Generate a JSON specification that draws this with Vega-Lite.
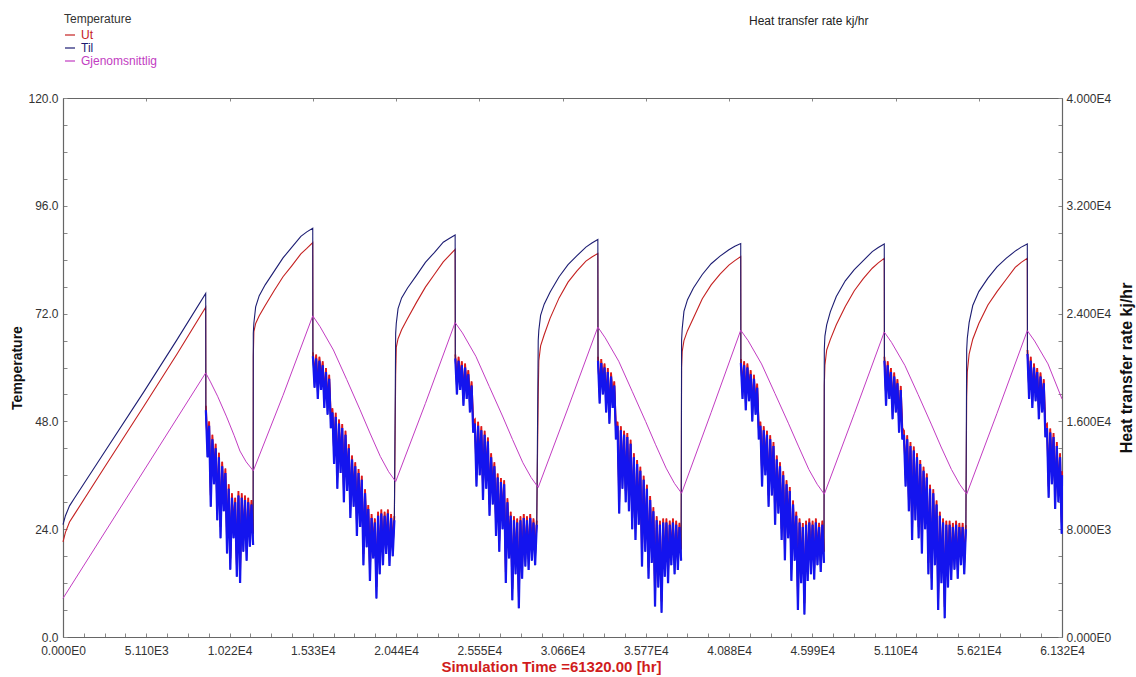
{
"$schema":"https://vega.github.io/schema/vega-lite/v6.json",
"width":999,"height":539,
"autosize":{"type":"none"},
"padding":{"left":63,"top":98,"right":74,"bottom":40},
"background":"white",
"config":{"view":{"stroke":null},"font":"Liberation Sans"},
"title":{"text":"Heat transfer rate kj/hr","anchor":"start","frame":"group","dx":686,"dy":14,"offset":0,"fontSize":12,"fontWeight":"normal","color":"#222","font":"Liberation Sans"},
"datasets":{
"main":[
{"t":0,"Ut":21.2,"Til":25.0,"p":"c"},
{"t":150,"Ut":23.3,"Til":27.0,"p":"c"},
{"t":400,"Ut":25.6,"Til":29.2,"p":"c"},
{"t":700,"Ut":27.3,"Til":30.9,"p":"c"},
{"t":2500,"Ut":37.5,"Til":40.9,"p":"c"},
{"t":5000,"Ut":51.6,"Til":54.8,"p":"c"},
{"t":7000,"Ut":63.0,"Til":66.2,"p":"c"},
{"t":8760,"Ut":73.4,"Til":76.5,"p":"c"},
{"t":8770,"Ut":51.5,"Til":50.5,"p":"d1"},
{"t":8870,"Ut":42.5,"Til":40.0,"p":"d1"},
{"t":8970,"Ut":48.0,"Til":47.0,"p":"d1"},
{"t":9070,"Ut":31.5,"Til":29.0,"p":"d1"},
{"t":9170,"Ut":45.0,"Til":44.0,"p":"d1"},
{"t":9270,"Ut":36.5,"Til":34.0,"p":"d1"},
{"t":9370,"Ut":43.0,"Til":42.0,"p":"d1"},
{"t":9470,"Ut":28.5,"Til":26.0,"p":"d1"},
{"t":9570,"Ut":41.0,"Til":40.0,"p":"d1"},
{"t":9670,"Ut":24.5,"Til":22.0,"p":"d1"},
{"t":9770,"Ut":39.0,"Til":38.0,"p":"d1"},
{"t":9870,"Ut":30.5,"Til":28.0,"p":"d1"},
{"t":9970,"Ut":37.5,"Til":36.5,"p":"d1"},
{"t":10070,"Ut":21.0,"Til":18.6,"p":"d1"},
{"t":10170,"Ut":34.0,"Til":33.0,"p":"d1"},
{"t":10270,"Ut":17.5,"Til":15.0,"p":"d1"},
{"t":10370,"Ut":32.0,"Til":31.0,"p":"d1"},
{"t":10470,"Ut":24.5,"Til":22.0,"p":"d1"},
{"t":10570,"Ut":31.0,"Til":30.0,"p":"d1"},
{"t":10670,"Ut":16.0,"Til":13.4,"p":"d1"},
{"t":10770,"Ut":32.5,"Til":31.5,"p":"d1"},
{"t":10870,"Ut":14.5,"Til":12.0,"p":"d1"},
{"t":10970,"Ut":32.0,"Til":31.0,"p":"d1"},
{"t":11070,"Ut":21.5,"Til":19.0,"p":"d1"},
{"t":11170,"Ut":31.5,"Til":30.5,"p":"d1"},
{"t":11270,"Ut":19.5,"Til":17.0,"p":"d1"},
{"t":11370,"Ut":31.0,"Til":30.0,"p":"d1"},
{"t":11470,"Ut":22.5,"Til":20.1,"p":"d1"},
{"t":11570,"Ut":30.5,"Til":29.5,"p":"d1"},
{"t":11670,"Ut":23.0,"Til":20.5,"p":"d1"},
{"t":11680,"Ut":62.4,"Til":67.6,"p":"c"},
{"t":11717,"Ut":68.0,"Til":69.9,"p":"c"},
{"t":11826,"Ut":69.8,"Til":73.5,"p":"c"},
{"t":12045,"Ut":71.5,"Til":76.0,"p":"c"},
{"t":12410,"Ut":73.8,"Til":78.4,"p":"c"},
{"t":12958,"Ut":77.1,"Til":81.4,"p":"c"},
{"t":13505,"Ut":80.2,"Til":84.4,"p":"c"},
{"t":14053,"Ut":82.7,"Til":86.8,"p":"c"},
{"t":14600,"Ut":85.3,"Til":89.2,"p":"c"},
{"t":14965,"Ut":86.5,"Til":90.2,"p":"c"},
{"t":15330,"Ut":87.8,"Til":91.0,"p":"c"},
{"t":15340,"Ut":63.4,"Til":62.5,"p":"d2"},
{"t":15440,"Ut":58.0,"Til":55.5,"p":"d2"},
{"t":15540,"Ut":62.9,"Til":62.0,"p":"d2"},
{"t":15640,"Ut":55.5,"Til":53.0,"p":"d2"},
{"t":15740,"Ut":62.4,"Til":61.5,"p":"d2"},
{"t":15840,"Ut":57.5,"Til":55.0,"p":"d2"},
{"t":15940,"Ut":61.4,"Til":60.5,"p":"d2"},
{"t":16040,"Ut":53.5,"Til":51.0,"p":"d2"},
{"t":16140,"Ut":59.9,"Til":59.0,"p":"d2"},
{"t":16240,"Ut":52.0,"Til":49.5,"p":"d2"},
{"t":16340,"Ut":58.4,"Til":57.5,"p":"d2"},
{"t":16440,"Ut":49.0,"Til":46.5,"p":"d2"},
{"t":16540,"Ut":50.9,"Til":50.0,"p":"d2"},
{"t":16640,"Ut":41.0,"Til":38.5,"p":"d2"},
{"t":16740,"Ut":49.9,"Til":49.0,"p":"d2"},
{"t":16840,"Ut":35.5,"Til":33.0,"p":"d2"},
{"t":16940,"Ut":48.4,"Til":47.5,"p":"d2"},
{"t":17040,"Ut":39.0,"Til":36.5,"p":"d2"},
{"t":17140,"Ut":47.4,"Til":46.5,"p":"d2"},
{"t":17240,"Ut":32.5,"Til":30.0,"p":"d2"},
{"t":17340,"Ut":45.9,"Til":45.0,"p":"d2"},
{"t":17440,"Ut":35.0,"Til":32.5,"p":"d2"},
{"t":17540,"Ut":42.9,"Til":42.0,"p":"d2"},
{"t":17640,"Ut":29.0,"Til":26.5,"p":"d2"},
{"t":17740,"Ut":40.4,"Til":39.5,"p":"d2"},
{"t":17840,"Ut":31.5,"Til":29.0,"p":"d2"},
{"t":17940,"Ut":38.9,"Til":38.0,"p":"d2"},
{"t":18040,"Ut":25.0,"Til":22.5,"p":"d2"},
{"t":18140,"Ut":37.4,"Til":36.5,"p":"d2"},
{"t":18240,"Ut":27.0,"Til":24.5,"p":"d2"},
{"t":18340,"Ut":35.9,"Til":35.0,"p":"d2"},
{"t":18440,"Ut":18.5,"Til":16.0,"p":"d2"},
{"t":18540,"Ut":32.9,"Til":32.0,"p":"d2"},
{"t":18640,"Ut":22.5,"Til":20.0,"p":"d2"},
{"t":18740,"Ut":29.4,"Til":28.5,"p":"d2"},
{"t":18840,"Ut":15.0,"Til":12.5,"p":"d2"},
{"t":18940,"Ut":27.4,"Til":26.5,"p":"d2"},
{"t":19040,"Ut":20.0,"Til":17.5,"p":"d2"},
{"t":19140,"Ut":26.4,"Til":25.5,"p":"d2"},
{"t":19240,"Ut":11.1,"Til":8.6,"p":"d2"},
{"t":19340,"Ut":27.9,"Til":27.0,"p":"d2"},
{"t":19440,"Ut":16.5,"Til":14.0,"p":"d2"},
{"t":19540,"Ut":28.4,"Til":27.5,"p":"d2"},
{"t":19640,"Ut":18.5,"Til":16.0,"p":"d2"},
{"t":19740,"Ut":27.9,"Til":27.0,"p":"d2"},
{"t":19840,"Ut":21.0,"Til":18.5,"p":"d2"},
{"t":19940,"Ut":28.4,"Til":27.5,"p":"d2"},
{"t":20040,"Ut":18.3,"Til":15.8,"p":"d2"},
{"t":20140,"Ut":27.4,"Til":26.5,"p":"d2"},
{"t":20240,"Ut":20.5,"Til":18.0,"p":"d2"},
{"t":20340,"Ut":26.9,"Til":26.0,"p":"d2"},
{"t":20420,"Ut":58.3,"Til":67.6,"p":"c"},
{"t":20457,"Ut":64.5,"Til":69.8,"p":"c"},
{"t":20566,"Ut":66.4,"Til":73.1,"p":"c"},
{"t":20785,"Ut":68.4,"Til":75.5,"p":"c"},
{"t":21150,"Ut":70.9,"Til":77.7,"p":"c"},
{"t":21698,"Ut":74.5,"Til":80.5,"p":"c"},
{"t":22245,"Ut":77.9,"Til":83.4,"p":"c"},
{"t":22793,"Ut":80.7,"Til":85.6,"p":"c"},
{"t":23340,"Ut":83.5,"Til":87.9,"p":"c"},
{"t":23705,"Ut":84.9,"Til":88.7,"p":"c"},
{"t":24070,"Ut":86.3,"Til":89.5,"p":"c"},
{"t":24080,"Ut":62.9,"Til":62.0,"p":"d3"},
{"t":24180,"Ut":56.5,"Til":54.0,"p":"d3"},
{"t":24280,"Ut":62.4,"Til":61.5,"p":"d3"},
{"t":24380,"Ut":57.5,"Til":55.0,"p":"d3"},
{"t":24480,"Ut":61.4,"Til":60.5,"p":"d3"},
{"t":24580,"Ut":54.0,"Til":51.5,"p":"d3"},
{"t":24680,"Ut":60.9,"Til":60.0,"p":"d3"},
{"t":24780,"Ut":55.5,"Til":53.0,"p":"d3"},
{"t":24880,"Ut":59.4,"Til":58.5,"p":"d3"},
{"t":24980,"Ut":52.5,"Til":50.0,"p":"d3"},
{"t":25080,"Ut":56.9,"Til":56.0,"p":"d3"},
{"t":25180,"Ut":48.0,"Til":45.5,"p":"d3"},
{"t":25280,"Ut":48.4,"Til":47.5,"p":"d3"},
{"t":25380,"Ut":36.0,"Til":33.5,"p":"d3"},
{"t":25480,"Ut":47.9,"Til":47.0,"p":"d3"},
{"t":25580,"Ut":38.5,"Til":36.0,"p":"d3"},
{"t":25680,"Ut":46.9,"Til":46.0,"p":"d3"},
{"t":25780,"Ut":33.0,"Til":30.5,"p":"d3"},
{"t":25880,"Ut":45.9,"Til":45.0,"p":"d3"},
{"t":25980,"Ut":35.5,"Til":33.0,"p":"d3"},
{"t":26080,"Ut":44.4,"Til":43.5,"p":"d3"},
{"t":26180,"Ut":29.5,"Til":27.0,"p":"d3"},
{"t":26280,"Ut":40.9,"Til":40.0,"p":"d3"},
{"t":26380,"Ut":32.0,"Til":29.5,"p":"d3"},
{"t":26480,"Ut":38.9,"Til":38.0,"p":"d3"},
{"t":26580,"Ut":25.0,"Til":22.5,"p":"d3"},
{"t":26680,"Ut":36.4,"Til":35.5,"p":"d3"},
{"t":26780,"Ut":21.5,"Til":19.0,"p":"d3"},
{"t":26880,"Ut":35.4,"Til":34.5,"p":"d3"},
{"t":26980,"Ut":26.5,"Til":24.0,"p":"d3"},
{"t":27080,"Ut":34.9,"Til":34.0,"p":"d3"},
{"t":27180,"Ut":14.5,"Til":12.0,"p":"d3"},
{"t":27280,"Ut":30.9,"Til":30.0,"p":"d3"},
{"t":27380,"Ut":20.0,"Til":17.5,"p":"d3"},
{"t":27480,"Ut":27.9,"Til":27.0,"p":"d3"},
{"t":27580,"Ut":10.7,"Til":8.2,"p":"d3"},
{"t":27680,"Ut":26.9,"Til":26.0,"p":"d3"},
{"t":27780,"Ut":16.5,"Til":14.0,"p":"d3"},
{"t":27880,"Ut":26.4,"Til":25.5,"p":"d3"},
{"t":27980,"Ut":8.9,"Til":6.4,"p":"d3"},
{"t":28080,"Ut":26.9,"Til":26.0,"p":"d3"},
{"t":28180,"Ut":15.5,"Til":13.0,"p":"d3"},
{"t":28280,"Ut":27.4,"Til":26.5,"p":"d3"},
{"t":28380,"Ut":18.2,"Til":15.7,"p":"d3"},
{"t":28480,"Ut":26.9,"Til":26.0,"p":"d3"},
{"t":28580,"Ut":17.4,"Til":14.9,"p":"d3"},
{"t":28680,"Ut":27.4,"Til":26.5,"p":"d3"},
{"t":28780,"Ut":19.5,"Til":17.0,"p":"d3"},
{"t":28880,"Ut":26.4,"Til":25.5,"p":"d3"},
{"t":28980,"Ut":18.5,"Til":16.0,"p":"d3"},
{"t":29080,"Ut":25.9,"Til":25.0,"p":"d3"},
{"t":29170,"Ut":54.0,"Til":66.0,"p":"c"},
{"t":29207,"Ut":61.5,"Til":68.3,"p":"c"},
{"t":29316,"Ut":64.8,"Til":71.6,"p":"c"},
{"t":29536,"Ut":67.3,"Til":74.1,"p":"c"},
{"t":29902,"Ut":71.0,"Til":76.8,"p":"c"},
{"t":30451,"Ut":75.5,"Til":80.2,"p":"c"},
{"t":31000,"Ut":79.0,"Til":82.9,"p":"c"},
{"t":31549,"Ut":81.5,"Til":84.9,"p":"c"},
{"t":32098,"Ut":83.7,"Til":86.8,"p":"c"},
{"t":32464,"Ut":84.6,"Til":87.7,"p":"c"},
{"t":32830,"Ut":85.4,"Til":88.5,"p":"c"},
{"t":32840,"Ut":62.4,"Til":61.5,"p":"d4"},
{"t":32940,"Ut":54.5,"Til":52.0,"p":"d4"},
{"t":33040,"Ut":61.9,"Til":61.0,"p":"d4"},
{"t":33140,"Ut":56.5,"Til":54.0,"p":"d4"},
{"t":33240,"Ut":60.9,"Til":60.0,"p":"d4"},
{"t":33340,"Ut":52.5,"Til":50.0,"p":"d4"},
{"t":33440,"Ut":59.9,"Til":59.0,"p":"d4"},
{"t":33540,"Ut":50.0,"Til":47.5,"p":"d4"},
{"t":33640,"Ut":58.9,"Til":58.0,"p":"d4"},
{"t":33740,"Ut":53.5,"Til":51.0,"p":"d4"},
{"t":33840,"Ut":56.9,"Til":56.0,"p":"d4"},
{"t":33940,"Ut":46.5,"Til":44.0,"p":"d4"},
{"t":34040,"Ut":47.9,"Til":47.0,"p":"d4"},
{"t":34140,"Ut":30.0,"Til":27.5,"p":"d4"},
{"t":34240,"Ut":46.9,"Til":46.0,"p":"d4"},
{"t":34340,"Ut":35.5,"Til":33.0,"p":"d4"},
{"t":34440,"Ut":45.9,"Til":45.0,"p":"d4"},
{"t":34540,"Ut":32.5,"Til":30.0,"p":"d4"},
{"t":34640,"Ut":45.4,"Til":44.5,"p":"d4"},
{"t":34740,"Ut":30.5,"Til":28.0,"p":"d4"},
{"t":34840,"Ut":43.9,"Til":43.0,"p":"d4"},
{"t":34940,"Ut":26.5,"Til":24.0,"p":"d4"},
{"t":35040,"Ut":40.9,"Til":40.0,"p":"d4"},
{"t":35140,"Ut":24.1,"Til":21.6,"p":"d4"},
{"t":35240,"Ut":39.4,"Til":38.5,"p":"d4"},
{"t":35340,"Ut":27.5,"Til":25.0,"p":"d4"},
{"t":35440,"Ut":37.9,"Til":37.0,"p":"d4"},
{"t":35540,"Ut":18.2,"Til":15.7,"p":"d4"},
{"t":35640,"Ut":35.9,"Til":35.0,"p":"d4"},
{"t":35740,"Ut":21.5,"Til":19.0,"p":"d4"},
{"t":35840,"Ut":33.9,"Til":33.0,"p":"d4"},
{"t":35940,"Ut":15.5,"Til":13.0,"p":"d4"},
{"t":36040,"Ut":31.4,"Til":30.5,"p":"d4"},
{"t":36140,"Ut":19.0,"Til":16.5,"p":"d4"},
{"t":36240,"Ut":28.9,"Til":28.0,"p":"d4"},
{"t":36340,"Ut":9.3,"Til":6.8,"p":"d4"},
{"t":36440,"Ut":26.9,"Til":26.0,"p":"d4"},
{"t":36540,"Ut":13.5,"Til":11.0,"p":"d4"},
{"t":36640,"Ut":25.9,"Til":25.0,"p":"d4"},
{"t":36740,"Ut":7.9,"Til":5.4,"p":"d4"},
{"t":36840,"Ut":26.4,"Til":25.5,"p":"d4"},
{"t":36940,"Ut":15.9,"Til":13.4,"p":"d4"},
{"t":37040,"Ut":26.4,"Til":25.5,"p":"d4"},
{"t":37140,"Ut":14.5,"Til":12.0,"p":"d4"},
{"t":37240,"Ut":25.9,"Til":25.0,"p":"d4"},
{"t":37340,"Ut":18.5,"Til":16.0,"p":"d4"},
{"t":37440,"Ut":26.4,"Til":25.5,"p":"d4"},
{"t":37540,"Ut":16.5,"Til":14.0,"p":"d4"},
{"t":37640,"Ut":25.9,"Til":25.0,"p":"d4"},
{"t":37740,"Ut":17.4,"Til":14.9,"p":"d4"},
{"t":37840,"Ut":25.4,"Til":24.5,"p":"d4"},
{"t":37940,"Ut":19.5,"Til":17.0,"p":"d4"},
{"t":37970,"Ut":60.0,"Til":66.0,"p":"c"},
{"t":38006,"Ut":63.5,"Til":68.6,"p":"c"},
{"t":38115,"Ut":66.0,"Til":72.5,"p":"c"},
{"t":38333,"Ut":68.2,"Til":75.1,"p":"c"},
{"t":38696,"Ut":71.0,"Til":77.7,"p":"c"},
{"t":39241,"Ut":75.3,"Til":80.7,"p":"c"},
{"t":39785,"Ut":78.4,"Til":83.1,"p":"c"},
{"t":40330,"Ut":80.8,"Til":84.8,"p":"c"},
{"t":40874,"Ut":82.8,"Til":86.2,"p":"c"},
{"t":41237,"Ut":83.8,"Til":87.0,"p":"c"},
{"t":41600,"Ut":84.7,"Til":87.6,"p":"c"},
{"t":41610,"Ut":61.9,"Til":61.0,"p":"d5"},
{"t":41710,"Ut":55.5,"Til":53.0,"p":"d5"},
{"t":41810,"Ut":61.4,"Til":60.5,"p":"d5"},
{"t":41910,"Ut":53.0,"Til":50.5,"p":"d5"},
{"t":42010,"Ut":60.9,"Til":60.0,"p":"d5"},
{"t":42110,"Ut":55.0,"Til":52.5,"p":"d5"},
{"t":42210,"Ut":59.4,"Til":58.5,"p":"d5"},
{"t":42310,"Ut":50.5,"Til":48.0,"p":"d5"},
{"t":42410,"Ut":58.4,"Til":57.5,"p":"d5"},
{"t":42510,"Ut":52.0,"Til":49.5,"p":"d5"},
{"t":42610,"Ut":56.4,"Til":55.5,"p":"d5"},
{"t":42710,"Ut":46.5,"Til":44.0,"p":"d5"},
{"t":42810,"Ut":47.9,"Til":47.0,"p":"d5"},
{"t":42910,"Ut":36.0,"Til":33.5,"p":"d5"},
{"t":43010,"Ut":46.9,"Til":46.0,"p":"d5"},
{"t":43110,"Ut":38.5,"Til":36.0,"p":"d5"},
{"t":43210,"Ut":45.9,"Til":45.0,"p":"d5"},
{"t":43310,"Ut":31.5,"Til":29.0,"p":"d5"},
{"t":43410,"Ut":44.9,"Til":44.0,"p":"d5"},
{"t":43510,"Ut":34.0,"Til":31.5,"p":"d5"},
{"t":43610,"Ut":43.4,"Til":42.5,"p":"d5"},
{"t":43710,"Ut":27.5,"Til":25.0,"p":"d5"},
{"t":43810,"Ut":40.4,"Til":39.5,"p":"d5"},
{"t":43910,"Ut":30.0,"Til":27.5,"p":"d5"},
{"t":44010,"Ut":38.9,"Til":38.0,"p":"d5"},
{"t":44110,"Ut":24.1,"Til":21.6,"p":"d5"},
{"t":44210,"Ut":36.9,"Til":36.0,"p":"d5"},
{"t":44310,"Ut":19.6,"Til":17.1,"p":"d5"},
{"t":44410,"Ut":34.9,"Til":34.0,"p":"d5"},
{"t":44510,"Ut":24.5,"Til":22.0,"p":"d5"},
{"t":44610,"Ut":33.4,"Til":32.5,"p":"d5"},
{"t":44710,"Ut":15.0,"Til":12.5,"p":"d5"},
{"t":44810,"Ut":30.4,"Til":29.5,"p":"d5"},
{"t":44910,"Ut":19.5,"Til":17.0,"p":"d5"},
{"t":45010,"Ut":27.9,"Til":27.0,"p":"d5"},
{"t":45110,"Ut":8.5,"Til":6.0,"p":"d5"},
{"t":45210,"Ut":26.4,"Til":25.5,"p":"d5"},
{"t":45310,"Ut":14.5,"Til":12.0,"p":"d5"},
{"t":45410,"Ut":25.4,"Til":24.5,"p":"d5"},
{"t":45510,"Ut":7.5,"Til":5.0,"p":"d5"},
{"t":45610,"Ut":25.9,"Til":25.0,"p":"d5"},
{"t":45710,"Ut":15.0,"Til":12.5,"p":"d5"},
{"t":45810,"Ut":26.4,"Til":25.5,"p":"d5"},
{"t":45910,"Ut":16.5,"Til":14.0,"p":"d5"},
{"t":46010,"Ut":25.9,"Til":25.0,"p":"d5"},
{"t":46110,"Ut":15.3,"Til":12.8,"p":"d5"},
{"t":46210,"Ut":26.4,"Til":25.5,"p":"d5"},
{"t":46310,"Ut":18.5,"Til":16.0,"p":"d5"},
{"t":46410,"Ut":25.4,"Til":24.5,"p":"d5"},
{"t":46510,"Ut":17.0,"Til":14.5,"p":"d5"},
{"t":46610,"Ut":25.9,"Til":25.0,"p":"d5"},
{"t":46710,"Ut":19.0,"Til":16.5,"p":"d5"},
{"t":46730,"Ut":56.0,"Til":64.0,"p":"c"},
{"t":46767,"Ut":60.5,"Til":67.0,"p":"c"},
{"t":46877,"Ut":63.9,"Til":69.5,"p":"c"},
{"t":47098,"Ut":66.2,"Til":72.4,"p":"c"},
{"t":47466,"Ut":69.5,"Til":75.8,"p":"c"},
{"t":48018,"Ut":73.6,"Til":79.3,"p":"c"},
{"t":48570,"Ut":77.1,"Til":81.8,"p":"c"},
{"t":49122,"Ut":79.8,"Til":83.8,"p":"c"},
{"t":49674,"Ut":82.1,"Til":85.8,"p":"c"},
{"t":50042,"Ut":83.3,"Til":86.7,"p":"c"},
{"t":50410,"Ut":84.3,"Til":87.5,"p":"c"},
{"t":50420,"Ut":62.4,"Til":61.5,"p":"d6"},
{"t":50520,"Ut":54.0,"Til":51.5,"p":"d6"},
{"t":50620,"Ut":61.4,"Til":60.5,"p":"d6"},
{"t":50720,"Ut":55.5,"Til":53.0,"p":"d6"},
{"t":50820,"Ut":59.9,"Til":59.0,"p":"d6"},
{"t":50920,"Ut":51.0,"Til":48.5,"p":"d6"},
{"t":51020,"Ut":58.9,"Til":58.0,"p":"d6"},
{"t":51120,"Ut":52.5,"Til":50.0,"p":"d6"},
{"t":51220,"Ut":57.4,"Til":56.5,"p":"d6"},
{"t":51320,"Ut":48.0,"Til":45.5,"p":"d6"},
{"t":51420,"Ut":55.9,"Til":55.0,"p":"d6"},
{"t":51520,"Ut":46.5,"Til":44.0,"p":"d6"},
{"t":51620,"Ut":45.9,"Til":45.0,"p":"d6"},
{"t":51720,"Ut":36.0,"Til":33.5,"p":"d6"},
{"t":51820,"Ut":44.9,"Til":44.0,"p":"d6"},
{"t":51920,"Ut":30.5,"Til":28.0,"p":"d6"},
{"t":52020,"Ut":43.4,"Til":42.5,"p":"d6"},
{"t":52120,"Ut":24.1,"Til":21.6,"p":"d6"},
{"t":52220,"Ut":42.4,"Til":41.5,"p":"d6"},
{"t":52320,"Ut":28.5,"Til":26.0,"p":"d6"},
{"t":52420,"Ut":40.9,"Til":40.0,"p":"d6"},
{"t":52520,"Ut":24.5,"Til":22.0,"p":"d6"},
{"t":52620,"Ut":39.4,"Til":38.5,"p":"d6"},
{"t":52720,"Ut":21.1,"Til":18.6,"p":"d6"},
{"t":52820,"Ut":37.9,"Til":37.0,"p":"d6"},
{"t":52920,"Ut":26.5,"Til":24.0,"p":"d6"},
{"t":53020,"Ut":36.4,"Til":35.5,"p":"d6"},
{"t":53120,"Ut":16.5,"Til":14.0,"p":"d6"},
{"t":53220,"Ut":33.9,"Til":33.0,"p":"d6"},
{"t":53320,"Ut":13.0,"Til":10.5,"p":"d6"},
{"t":53420,"Ut":32.9,"Til":32.0,"p":"d6"},
{"t":53520,"Ut":18.5,"Til":16.0,"p":"d6"},
{"t":53620,"Ut":30.4,"Til":29.5,"p":"d6"},
{"t":53720,"Ut":8.5,"Til":6.0,"p":"d6"},
{"t":53820,"Ut":27.9,"Til":27.0,"p":"d6"},
{"t":53920,"Ut":14.5,"Til":12.0,"p":"d6"},
{"t":54020,"Ut":26.4,"Til":25.5,"p":"d6"},
{"t":54120,"Ut":6.7,"Til":4.2,"p":"d6"},
{"t":54220,"Ut":25.9,"Til":25.0,"p":"d6"},
{"t":54320,"Ut":13.5,"Til":11.0,"p":"d6"},
{"t":54420,"Ut":25.9,"Til":25.0,"p":"d6"},
{"t":54520,"Ut":15.2,"Til":12.7,"p":"d6"},
{"t":54620,"Ut":25.4,"Til":24.5,"p":"d6"},
{"t":54720,"Ut":17.5,"Til":15.0,"p":"d6"},
{"t":54820,"Ut":25.9,"Til":25.0,"p":"d6"},
{"t":54920,"Ut":15.5,"Til":13.0,"p":"d6"},
{"t":55020,"Ut":25.4,"Til":24.5,"p":"d6"},
{"t":55120,"Ut":18.5,"Til":16.0,"p":"d6"},
{"t":55220,"Ut":25.4,"Til":24.5,"p":"d6"},
{"t":55320,"Ut":16.5,"Til":14.0,"p":"d6"},
{"t":55420,"Ut":24.9,"Til":24.0,"p":"d6"},
{"t":55470,"Ut":53.5,"Til":64.0,"p":"c"},
{"t":55507,"Ut":59.0,"Til":66.5,"p":"c"},
{"t":55619,"Ut":63.0,"Til":70.0,"p":"c"},
{"t":55842,"Ut":66.3,"Til":73.8,"p":"c"},
{"t":56214,"Ut":69.8,"Til":76.9,"p":"c"},
{"t":56772,"Ut":73.9,"Til":79.9,"p":"c"},
{"t":57330,"Ut":76.9,"Til":82.4,"p":"c"},
{"t":57888,"Ut":79.6,"Til":84.3,"p":"c"},
{"t":58446,"Ut":82.3,"Til":85.9,"p":"c"},
{"t":58818,"Ut":83.4,"Til":86.8,"p":"c"},
{"t":59190,"Ut":84.3,"Til":87.5,"p":"c"},
{"t":59200,"Ut":63.9,"Til":63.0,"p":"d7"},
{"t":59300,"Ut":55.5,"Til":53.0,"p":"d7"},
{"t":59400,"Ut":62.4,"Til":61.5,"p":"d7"},
{"t":59500,"Ut":53.5,"Til":51.0,"p":"d7"},
{"t":59600,"Ut":60.9,"Til":60.0,"p":"d7"},
{"t":59700,"Ut":55.0,"Til":52.5,"p":"d7"},
{"t":59800,"Ut":59.9,"Til":59.0,"p":"d7"},
{"t":59900,"Ut":51.0,"Til":48.5,"p":"d7"},
{"t":60000,"Ut":58.9,"Til":58.0,"p":"d7"},
{"t":60100,"Ut":52.5,"Til":50.0,"p":"d7"},
{"t":60200,"Ut":57.4,"Til":56.5,"p":"d7"},
{"t":60300,"Ut":47.0,"Til":44.5,"p":"d7"},
{"t":60400,"Ut":47.4,"Til":46.5,"p":"d7"},
{"t":60500,"Ut":33.5,"Til":31.0,"p":"d7"},
{"t":60600,"Ut":46.4,"Til":45.5,"p":"d7"},
{"t":60700,"Ut":36.5,"Til":34.0,"p":"d7"},
{"t":60800,"Ut":45.4,"Til":44.5,"p":"d7"},
{"t":60900,"Ut":31.0,"Til":28.5,"p":"d7"},
{"t":61000,"Ut":43.4,"Til":42.5,"p":"d7"},
{"t":61100,"Ut":32.5,"Til":30.0,"p":"d7"},
{"t":61200,"Ut":40.9,"Til":40.0,"p":"d7"},
{"t":61300,"Ut":25.5,"Til":23.0,"p":"d7"},
{"t":61320,"Ut":36.9,"Til":36.0,"p":"d7"}
],
"avg":[
{"t":0,"G":8.6},{"t":8760,"G":58.8},{"t":9052,"G":56.8},{"t":9490,"G":53.6},{"t":10045,"G":49.0},{"t":10512,"G":44.8},{"t":10862,"G":41.4},{"t":11242,"G":39.0},{"t":11680,"G":37.0},
{"t":13505,"G":53.8},{"t":15330,"G":71.5},{"t":15778,"G":69.1},{"t":16597,"G":63.9},{"t":17417,"G":57.3},{"t":18231,"G":50.6},{"t":18842,"G":45.4},{"t":19478,"G":40.2},{"t":19987,"G":36.8},{"t":20420,"G":34.6},
{"t":22245,"G":52.0},{"t":24070,"G":70.0},{"t":24519,"G":67.7},{"t":25340,"G":62.5},{"t":26161,"G":55.8},{"t":26977,"G":49.2},{"t":27589,"G":44.0},{"t":28227,"G":38.8},{"t":28737,"G":35.5},{"t":29170,"G":33.3},
{"t":31000,"G":51.0},{"t":32830,"G":69.0},{"t":33282,"G":66.6},{"t":34110,"G":61.4},{"t":34937,"G":54.7},{"t":35760,"G":48.0},{"t":36377,"G":42.8},{"t":37019,"G":37.6},{"t":37533,"G":34.2},{"t":37970,"G":32.0},
{"t":39785,"G":50.0},{"t":41600,"G":68.3},{"t":42051,"G":66.0},{"t":42877,"G":60.8},{"t":43703,"G":54.2},{"t":44524,"G":47.6},{"t":45140,"G":42.5},{"t":45781,"G":37.3},{"t":46294,"G":34.0},{"t":46730,"G":31.8},
{"t":48570,"G":49.7},{"t":50410,"G":67.9},{"t":50855,"G":65.6},{"t":51670,"G":60.5},{"t":52485,"G":54.0},{"t":53294,"G":47.4},{"t":53901,"G":42.3},{"t":54534,"G":37.3},{"t":55040,"G":34.0},{"t":55470,"G":31.8},
{"t":57330,"G":49.8},{"t":59190,"G":68.2},{"t":59639,"G":65.9},{"t":60460,"G":60.8},{"t":61320,"G":53.0}
],
"heat":[{"t":0,"h":0},{"t":61320,"h":40000}]
},
"layer":[
{
"encoding":{"x":{"field":"t","type":"quantitative","scale":{"domain":[0,61320],"nice":false,"zero":false},
"axis":{"orient":"bottom","values":[0,1277.5,2555,3832.5,5110,6387.5,7665,8942.5,10220,11497.5,12775,14052.5,15330,16607.5,17885,19162.5,20440,21717.5,22995,24272.5,25550,26827.5,28105,29382.5,30660,31937.5,33215,34492.5,35770,37047.5,38325,39602.5,40880,42157.5,43435,44712.5,45990,47267.5,48545,49822.5,51100,52377.5,53655,54932.5,56210,57487.5,58765,60042.5,61320],
"labelExpr":"abs(datum.value/5110-round(datum.value/5110))>0.001 ? '' : (datum.value==0 ? '0.000E0' : format(datum.value/pow(10,floor(log(datum.value)/LN10)),'.3f')+'E'+floor(log(datum.value)/LN10))",
"tickSize":-4,"tickColor":"#888","labelPadding":12,"labelFontSize":12,"labelColor":"#333","labelFont":"Liberation Sans","labelFlush":false,"labelOverlap":false,"labelBound":false,"domainColor":"#666","domainWidth":1.2,"grid":false,
"title":"Simulation Time =61320.00 [hr]","titleColor":"#d01c1c","titleFontSize":15,"titleFontWeight":"bold","titleFont":"Liberation Sans","titlePadding":3,"titleX":488}}},
"layer":[
{"data":{"name":"main"},"mark":{"type":"line","strokeWidth":1.1},
"encoding":{"y":{"field":"Ut","type":"quantitative","scale":{"domain":[0,120],"nice":false,"zero":false},
"axis":{"orient":"left","values":[0,6,12,18,24,30,36,42,48,54,60,66,72,78,84,90,96,102,108,114,120],"labelExpr":"datum.value % 24 == 0 ? format(datum.value,'.1f') : ''","tickSize":-4,"tickColor":"#888","labelPadding":9,"labelFontSize":12,"labelColor":"#333","labelFont":"Liberation Sans","labelFlush":false,"labelOverlap":false,"labelBound":false,"domainColor":"#666","domainWidth":1.2,"grid":false,
"title":"Temperature","titleFontSize":14,"titleFontWeight":"bold","titleColor":"#111","titleFont":"Liberation Sans","titlePadding":3}},
"color":{"datum":"Ut","type":"nominal","scale":{"domain":["Ut","Til","Gjenomsnittlig"],"range":["#c42020","#1c1c72","#c23cc2"]},
"legend":{"orient":"none","legendX":1,"legendY":-84,"title":"Temperature","titleFont":"Liberation Sans","titleFontSize":12,"titleFontWeight":"normal","titleColor":"#333","titlePadding":3,"symbolType":"stroke","symbolSize":100,"symbolStrokeWidth":1.2,"labelFont":"Liberation Sans","labelFontSize":12,"labelOffset":5,"rowPadding":1,"padding":0,
"encode":{"labels":{"update":{"fill":{"scale":"color","field":"value"}}}}}}}},
{"data":{"name":"main"},"transform":[{"filter":"datum.p != 'c'"}],"mark":{"type":"line","strokeWidth":1.8,"color":"#e01818"},
"encoding":{"y":{"field":"Ut","type":"quantitative","scale":{"domain":[0,120],"nice":false,"zero":false},
"axis":{"orient":"left","values":[0,6,12,18,24,30,36,42,48,54,60,66,72,78,84,90,96,102,108,114,120],"labelExpr":"datum.value % 24 == 0 ? format(datum.value,'.1f') : ''","tickSize":-4,"tickColor":"#888","labelPadding":9,"labelFontSize":12,"labelColor":"#333","labelFont":"Liberation Sans","labelFlush":false,"labelOverlap":false,"labelBound":false,"domainColor":"#666","domainWidth":1.2,"grid":false,
"title":"Temperature","titleFontSize":14,"titleFontWeight":"bold","titleColor":"#111","titleFont":"Liberation Sans","titlePadding":3}},
"detail":{"field":"p"}}},
{"data":{"name":"main"},"mark":{"type":"line","strokeWidth":1.1},
"encoding":{"y":{"field":"Til","type":"quantitative","scale":{"domain":[0,120],"nice":false,"zero":false},
"axis":{"orient":"left","values":[0,6,12,18,24,30,36,42,48,54,60,66,72,78,84,90,96,102,108,114,120],"labelExpr":"datum.value % 24 == 0 ? format(datum.value,'.1f') : ''","tickSize":-4,"tickColor":"#888","labelPadding":9,"labelFontSize":12,"labelColor":"#333","labelFont":"Liberation Sans","labelFlush":false,"labelOverlap":false,"labelBound":false,"domainColor":"#666","domainWidth":1.2,"grid":false,
"title":"Temperature","titleFontSize":14,"titleFontWeight":"bold","titleColor":"#111","titleFont":"Liberation Sans","titlePadding":3}},
"color":{"datum":"Til","type":"nominal"}}},
{"data":{"name":"main"},"transform":[{"filter":"datum.p != 'c'"}],"mark":{"type":"line","strokeWidth":2.2,"color":"#1414ee"},
"encoding":{"y":{"field":"Til","type":"quantitative","scale":{"domain":[0,120],"nice":false,"zero":false},
"axis":{"orient":"left","values":[0,6,12,18,24,30,36,42,48,54,60,66,72,78,84,90,96,102,108,114,120],"labelExpr":"datum.value % 24 == 0 ? format(datum.value,'.1f') : ''","tickSize":-4,"tickColor":"#888","labelPadding":9,"labelFontSize":12,"labelColor":"#333","labelFont":"Liberation Sans","labelFlush":false,"labelOverlap":false,"labelBound":false,"domainColor":"#666","domainWidth":1.2,"grid":false,
"title":"Temperature","titleFontSize":14,"titleFontWeight":"bold","titleColor":"#111","titleFont":"Liberation Sans","titlePadding":3}},
"detail":{"field":"p"}}},
{"data":{"name":"avg"},"mark":{"type":"line","strokeWidth":1},
"encoding":{"y":{"field":"G","type":"quantitative","scale":{"domain":[0,120],"nice":false,"zero":false},
"axis":{"orient":"left","values":[0,6,12,18,24,30,36,42,48,54,60,66,72,78,84,90,96,102,108,114,120],"labelExpr":"datum.value % 24 == 0 ? format(datum.value,'.1f') : ''","tickSize":-4,"tickColor":"#888","labelPadding":9,"labelFontSize":12,"labelColor":"#333","labelFont":"Liberation Sans","labelFlush":false,"labelOverlap":false,"labelBound":false,"domainColor":"#666","domainWidth":1.2,"grid":false,
"title":"Temperature","titleFontSize":14,"titleFontWeight":"bold","titleColor":"#111","titleFont":"Liberation Sans","titlePadding":3}},
"color":{"datum":"Gjenomsnittlig","type":"nominal"}}}
]
},
{
"data":{"name":"heat"},
"mark":{"type":"point","opacity":0},
"encoding":{
"x":{"field":"t","type":"quantitative","scale":{"domain":[0,61320],"nice":false,"zero":false},
"axis":{"orient":"top","values":[0,5110,10220,15330,20440,25550,30660,35770,40880,45990,51100,56210,61320],"labels":false,"tickSize":-3,"tickColor":"#888","domainColor":"#666","domainWidth":1.2,"grid":false,"title":null}},
"y":{"field":"h","type":"quantitative","scale":{"domain":[0,40000],"nice":false,"zero":false},
"axis":{"orient":"right","values":[0,2000,4000,6000,8000,10000,12000,14000,16000,18000,20000,22000,24000,26000,28000,30000,32000,34000,36000,38000,40000],
"labelExpr":"datum.value % 8000 != 0 ? '' : (datum.value==0 ? '0.000E0' : format(datum.value/pow(10,floor(log(datum.value)/LN10)),'.3f')+'E'+floor(log(datum.value)/LN10))",
"tickSize":-4,"tickColor":"#888","labelPadding":8,"labelFontSize":12,"labelColor":"#333","labelFont":"Liberation Sans","labelFlush":false,"labelOverlap":false,"labelBound":false,"domainColor":"#666","domainWidth":1.2,"grid":false,
"title":"Heat transfer rate kj/hr","titleAngle":270,"titleBaseline":"top","titleFontSize":16,"titleFontWeight":"bold","titleColor":"#111","titleFont":"Liberation Sans","titlePadding":8}}
}
}
],
"resolve":{"scale":{"y":"independent"},"axis":{"x":"independent","y":"independent"}}
}
